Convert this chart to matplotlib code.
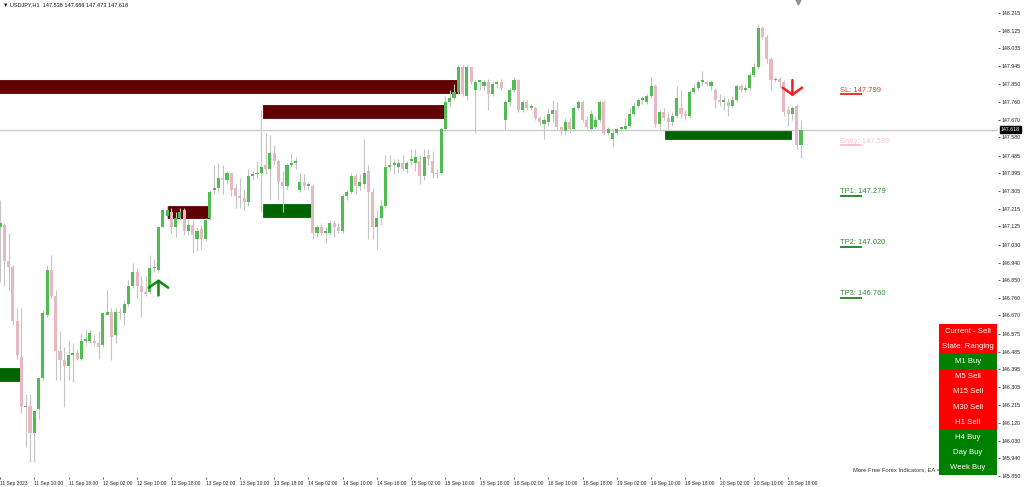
#!/usr/bin/env python3
"""USDJPY H1 chart with supply/demand zones, trade levels and signal panel."""
import matplotlib

matplotlib.use("Agg")
import matplotlib.pyplot as plt
import matplotlib.transforms as mtransforms
from matplotlib.patches import Rectangle

plt.rcParams["font.family"] = ["Liberation Sans", "DejaVu Sans"]

# hourly bars from 11 Sep 02:00 to 20 Sep
opens = [
    147.12, 147.13, 146.95, 146.92, 146.64, 146.46, 146.20, 146.21, 146.07, 146.19,
    146.35, 146.67, 146.90, 146.77, 146.49, 146.44, 146.41, 146.47, 146.48, 146.45,
    146.54, 146.54, 146.54, 146.53, 146.52, 146.67, 146.69, 146.57, 146.69, 146.68,
    146.73, 146.82, 146.89, 146.82, 146.79, 146.79, 146.91, 146.90, 147.12, 147.18,
    147.20, 147.12, 147.17, 147.21, 147.10, 147.13, 147.06, 147.11, 147.06, 147.17,
    147.31, 147.32, 147.37, 147.36, 147.40, 147.32, 147.28, 147.27, 147.25, 147.38,
    147.39, 147.40, 147.44, 147.42, 147.50, 147.46, 147.35, 147.33, 147.44, 147.45,
    147.31, 147.35, 147.33, 147.33, 147.09, 147.12, 147.09, 147.09, 147.14, 147.12,
    147.10, 147.28, 147.30, 147.38, 147.33, 147.34, 147.41, 147.30, 147.12, 147.17,
    147.23, 147.43, 147.44, 147.43, 147.45, 147.42, 147.46, 147.45, 147.46, 147.38,
    147.49, 147.46, 147.40, 147.40, 147.62, 147.76, 147.78, 147.81, 147.94, 147.79,
    147.94, 147.82, 147.86, 147.84, 147.86, 147.80, 147.85, 147.86, 147.67, 147.76,
    147.82, 147.87, 147.72, 147.76, 147.73, 147.73, 147.68, 147.65, 147.66, 147.70,
    147.72, 147.63, 147.61, 147.66, 147.62, 147.73, 147.76, 147.67, 147.62, 147.63,
    147.67, 147.76, 147.60, 147.57, 147.60, 147.62, 147.62, 147.64, 147.70, 147.74,
    147.77, 147.76, 147.79, 147.84, 147.65, 147.71, 147.68, 147.66, 147.69, 147.73,
    147.70, 147.69, 147.81, 147.83, 147.86, 147.86, 147.84, 147.82, 147.77, 147.76,
    147.76, 147.74, 147.77, 147.84, 147.82, 147.83, 147.90, 147.94, 148.14, 148.09,
    147.98, 147.87, 147.88, 147.86, 147.72, 147.70, 147.74, 147.538,
]
highs = [
    147.26, 147.14, 147.09, 146.93, 146.71, 146.71, 146.27, 146.27, 146.18, 146.35,
    146.70, 146.93, 146.98, 146.80, 146.59, 146.51, 146.54, 146.53, 146.50, 146.58,
    146.60, 146.60, 146.57, 146.59, 146.68, 146.80, 146.71, 146.71, 146.71, 146.75,
    146.85, 146.94, 146.91, 146.87, 146.87, 146.98, 146.96, 147.12, 147.22, 147.23,
    147.22, 147.20, 147.22, 147.22, 147.16, 147.16, 147.12, 147.13, 147.17, 147.31,
    147.44, 147.45, 147.44, 147.41, 147.40, 147.34, 147.37, 147.31, 147.42, 147.41,
    147.46, 147.72, 147.60, 147.59, 147.54, 147.47, 147.41, 147.45, 147.50, 147.48,
    147.40, 147.39, 147.35, 147.34, 147.13, 147.14, 147.12, 147.16, 147.16, 147.14,
    147.29, 147.31, 147.40, 147.39, 147.39, 147.57, 147.44, 147.32, 147.21, 147.26,
    147.49, 147.49, 147.47, 147.47, 147.49, 147.46, 147.52, 147.52, 147.49, 147.52,
    147.52, 147.51, 147.42, 147.63, 147.79, 147.82, 147.85, 147.95, 147.95, 147.95,
    147.94, 147.87, 147.87, 147.87, 147.88, 147.86, 147.87, 147.88, 147.77, 147.83,
    147.89, 147.88, 147.77, 147.77, 147.75, 147.74, 147.69, 147.69, 147.73, 147.77,
    147.76, 147.64, 147.68, 147.68, 147.74, 147.77, 147.77, 147.69, 147.72, 147.69,
    147.77, 147.77, 147.63, 147.62, 147.63, 147.64, 147.68, 147.73, 147.76, 147.78,
    147.79, 147.80, 147.89, 147.85, 147.72, 147.73, 147.71, 147.71, 147.84, 147.82,
    147.72, 147.82, 147.85, 147.87, 147.92, 147.87, 147.87, 147.83, 147.80, 147.79,
    147.78, 147.79, 147.85, 147.85, 147.85, 147.91, 147.96, 148.16, 148.15, 148.10,
    147.99, 147.89, 147.89, 147.87, 147.74, 147.74, 147.75, 147.666,
]
lows = [
    146.84, 146.82, 146.80, 146.62, 146.45, 146.17, 146.00, 145.92, 145.92, 146.14,
    146.34, 146.66, 146.76, 146.34, 146.34, 146.20, 146.34, 146.33, 146.44, 146.44,
    146.52, 146.53, 146.52, 146.45, 146.51, 146.67, 146.44, 146.53, 146.65, 146.62,
    146.72, 146.81, 146.76, 146.66, 146.77, 146.78, 146.89, 146.89, 147.12, 147.17,
    147.09, 147.07, 147.16, 147.08, 147.08, 146.99, 147.00, 147.01, 147.05, 147.16,
    147.29, 147.30, 147.29, 147.34, 147.28, 147.22, 147.22, 147.21, 147.23, 147.36,
    147.37, 147.20, 147.39, 147.26, 147.44, 147.26, 147.20, 147.31, 147.43, 147.42,
    147.30, 147.31, 147.31, 147.06, 147.07, 147.08, 147.04, 147.08, 147.07, 147.09,
    147.09, 147.26, 147.29, 147.29, 147.31, 147.32, 147.06, 147.06, 147.01, 147.13,
    147.22, 147.41, 147.39, 147.40, 147.41, 147.40, 147.44, 147.41, 147.34, 147.36,
    147.44, 147.37, 147.37, 147.39, 147.61, 147.74, 147.77, 147.80, 147.79, 147.77,
    147.85, 147.60, 147.82, 147.82, 147.72, 147.79, 147.83, 147.82, 147.62, 147.74,
    147.81, 147.71, 147.71, 147.72, 147.72, 147.67, 147.64, 147.57, 147.64, 147.66,
    147.62, 147.59, 147.59, 147.60, 147.61, 147.72, 147.66, 147.62, 147.61, 147.62,
    147.66, 147.59, 147.59, 147.53, 147.59, 147.61, 147.61, 147.63, 147.69, 147.73,
    147.75, 147.75, 147.78, 147.63, 147.62, 147.67, 147.62, 147.64, 147.68, 147.68,
    147.67, 147.68, 147.80, 147.82, 147.84, 147.84, 147.82, 147.73, 147.74, 147.72,
    147.69, 147.73, 147.76, 147.81, 147.81, 147.82, 147.89, 147.93, 148.08, 147.96,
    147.82, 147.86, 147.83, 147.69, 147.64, 147.67, 147.52, 147.473,
]
closes = [
    147.14, 146.95, 146.92, 146.64, 146.47, 146.20, 146.21, 146.07, 146.18, 146.35,
    146.68, 146.90, 146.77, 146.49, 146.44, 146.41, 146.47, 146.48, 146.45, 146.54,
    146.55, 146.58, 146.53, 146.51, 146.68, 146.69, 146.56, 146.69, 146.68, 146.73,
    146.82, 146.89, 146.82, 146.79, 146.78, 146.91, 146.92, 147.12, 147.21, 147.21,
    147.12, 147.17, 147.20, 147.10, 147.13, 147.08, 147.10, 147.06, 147.16, 147.30,
    147.32, 147.37, 147.36, 147.40, 147.31, 147.28, 147.27, 147.25, 147.38, 147.39,
    147.40, 147.43, 147.42, 147.50, 147.46, 147.35, 147.33, 147.44, 147.45, 147.46,
    147.35, 147.33, 147.34, 147.09, 147.12, 147.09, 147.10, 147.14, 147.12, 147.10,
    147.28, 147.30, 147.38, 147.33, 147.35, 147.40, 147.30, 147.12, 147.17, 147.23,
    147.43, 147.44, 147.45, 147.45, 147.42, 147.45, 147.47, 147.48, 147.38, 147.48,
    147.47, 147.40, 147.39, 147.62, 147.76, 147.78, 147.81, 147.94, 147.80, 147.94,
    147.86, 147.86, 147.87, 147.86, 147.80, 147.85, 147.86, 147.83, 147.76, 147.82,
    147.87, 147.72, 147.76, 147.73, 147.74, 147.68, 147.66, 147.67, 147.70, 147.72,
    147.63, 147.61, 147.66, 147.62, 147.73, 147.76, 147.67, 147.63, 147.70, 147.67,
    147.76, 147.60, 147.62, 147.60, 147.62, 147.63, 147.64, 147.70, 147.74, 147.77,
    147.78, 147.79, 147.84, 147.65, 147.71, 147.68, 147.66, 147.69, 147.78, 147.70,
    147.69, 147.81, 147.83, 147.86, 147.87, 147.85, 147.86, 147.77, 147.76, 147.77,
    147.74, 147.77, 147.84, 147.82, 147.83, 147.90, 147.94, 148.14, 148.09, 147.98,
    147.87, 147.88, 147.86, 147.71, 147.70, 147.73, 147.54, 147.618,
]

time_labels = [
    "11 Sep 2023", "11 Sep 10:00", "11 Sep 18:00", "12 Sep 02:00", "12 Sep 10:00",
    "12 Sep 18:00", "13 Sep 02:00", "13 Sep 10:00", "13 Sep 18:00", "14 Sep 02:00",
    "14 Sep 10:00", "14 Sep 18:00", "15 Sep 02:00", "15 Sep 10:00", "15 Sep 18:00",
    "18 Sep 02:00", "18 Sep 10:00", "18 Sep 18:00", "19 Sep 02:00", "19 Sep 10:00",
    "19 Sep 18:00", "20 Sep 02:00", "20 Sep 10:00", "20 Sep 18:00",
]
price_ticks = [
    148.215, 148.125, 148.035, 147.945, 147.850, 147.760, 147.670, 147.580, 147.485,
    147.395, 147.305, 147.215, 147.125, 147.030, 146.940, 146.850, 146.760, 146.670,
    146.575, 146.485, 146.395, 146.305, 146.215, 146.120, 146.030, 145.940, 145.850,
]

# zones: bar index where they start / end and price top / bottom
supply_start = [-5, 61.4, 39.2]
supply_end = [107.1, 104.0, 49.0]
supply_top = [147.872, 147.745, 147.230]
supply_bottom = [147.806, 147.678, 147.168]
demand_start = [-5, 61.4, 155.3]
demand_end = [5.0, 73.0, 184.7]
demand_top = [146.402, 147.240, 147.617]
demand_bottom = [146.336, 147.173, 147.571]

level_names = ["SL", "Entry", "TP1", "TP2", "TP3"]
level_prices = [147.799, 147.539, 147.279, 147.020, 146.760]
level_colors = ["#ee3333", "#ffc0cb", "#2e8b2e", "#2e8b2e", "#2e8b2e"]

buy_bar, buy_tip, buy_tail = 37, 146.855, 146.772
sell_bar, sell_tip, sell_tail = 185, 147.790, 147.872

panel_rows = ["Current - Sell", "State: Ranging", "M1 Buy", "M5 Sell", "M15 Sell",
              "M30 Sell", "H1 Sell", "H4 Buy", "Day Buy", "Week Buy"]
panel_signal = ["sell", "sell", "buy", "sell", "sell", "sell", "sell", "buy", "buy", "buy"]

last_price = 147.618
header = "\u25bc USDJPY,H1  147.538 147.666 147.473 147.618"

BULL = "#52bb52"
BEAR = "#e8b8c2"
WICK = "#c4c4c4"

fig = plt.figure(figsize=(10.24, 4.87), dpi=100)
ax = fig.add_axes([0, 10 / 487, 998 / 1024, 477 / 487])
ax.set_xlim(0.12, 233.0)
ax.set_ylim(145.845, 148.281)

for s, e, t, b in zip(supply_start, supply_end, supply_top, supply_bottom):
    ax.add_patch(Rectangle((s, b), e - s, t - b, facecolor="#600000", edgecolor="#600000", lw=0.6, zorder=1))
for s, e, t, b in zip(demand_start, demand_end, demand_top, demand_bottom):
    ax.add_patch(Rectangle((s, b), e - s, t - b, facecolor="#006400", edgecolor="#006400", lw=0.6, zorder=1))

xs = list(range(len(closes)))
ax.vlines(xs, lows, highs, color=WICK, lw=0.8, zorder=2)
for x, o, c in zip(xs, opens, closes):
    col = BULL if c >= o else BEAR
    h = max(abs(c - o), 0.004)
    ax.bar(x, h, bottom=min(o, c), width=0.72, color=col, lw=0, zorder=3)

ax.axhline(last_price, color="#c8c8c8", lw=0.9, zorder=1.5)

# signal arrows
ax.annotate("", xy=(buy_bar, buy_tip), xytext=(buy_bar, buy_tail),
            arrowprops=dict(arrowstyle="->,head_length=0.5,head_width=0.7", color="#118811",
                            lw=1.8, mutation_scale=10, shrinkA=0, shrinkB=0), zorder=5)
ax.annotate("", xy=(sell_bar, sell_tip), xytext=(sell_bar, sell_tail),
            arrowprops=dict(arrowstyle="->,head_length=0.5,head_width=0.7", color="#ee2020",
                            lw=1.8, mutation_scale=10, shrinkA=0, shrinkB=0), zorder=5)

# trade levels
for name, p, col in zip(level_names, level_prices, level_colors):
    ax.plot([196.1, 201.3], [p, p], color=col, lw=1.4, solid_capstyle="butt", zorder=4)
    ax.text(196.1, p + 0.004, f"{name}: {p:.3f}", color=col, fontsize=5.4,
            ha="left", va="bottom", zorder=4)

# axes look
for sp in ax.spines.values():
    sp.set_visible(False)
ax.yaxis.tick_right()
ax.set_yticks(price_ticks)
ax.set_yticklabels([f"{v:.3f}" for v in price_ticks])
ax.tick_params(axis="y", labelsize=3.8, length=1.5, width=0.5, pad=1.2, colors="#222222")
ax.set_xticks([8 * k for k in range(len(time_labels))])
ax.set_xticklabels(time_labels, ha="left")
ax.tick_params(axis="x", labelsize=3.5, length=1.5, width=0.5, pad=1.5, colors="#222222")

blend = mtransforms.blended_transform_factory(ax.transAxes, ax.transData)
ax.text(1.003, last_price, f"{last_price:.3f}", transform=blend, fontsize=3.8, color="white",
        ha="left", va="center", zorder=6, clip_on=False,
        bbox=dict(facecolor="black", edgecolor="black", pad=0.7))

ax.text(3 / 1024, 1 - 5 / 487, header, transform=fig.transFigure, fontsize=4.0,
        ha="left", va="center", color="#111111", clip_on=False)
ax.plot([186.3], [148.272], marker="v", ms=3.5, color="#909090", clip_on=False, zorder=6)

ax.text(853 / 1024, 1 - 470 / 487, "More Free Forex Indicators, EA ==> ", transform=fig.transFigure,
        fontsize=4.2, ha="left", va="center", color="#333333", clip_on=False)

# signal panel
pax = fig.add_axes([939 / 1024, 12 / 487, 58 / 1024, 151 / 487])
pax.set_xlim(0, 1)
pax.set_ylim(len(panel_rows), 0)
pax.axis("off")
for k, (label, sig) in enumerate(zip(panel_rows, panel_signal)):
    col = "#ff0000" if sig == "sell" else "#008000"
    pax.add_patch(Rectangle((0, k), 1, 1, facecolor=col, edgecolor="none"))
    pax.text(0.5, k + 0.5, label, color="white", fontsize=5.6, ha="center", va="center")

fig.savefig("out.png", dpi=100, facecolor="white")
